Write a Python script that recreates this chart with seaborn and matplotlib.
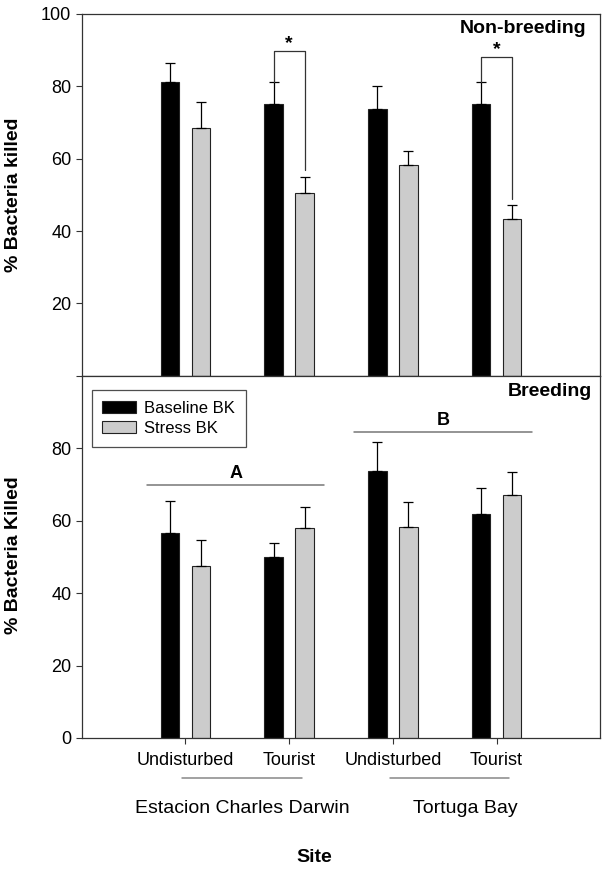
import numpy as np
import pandas as pd
import matplotlib
matplotlib.use("Agg")
import matplotlib.pyplot as plt
import seaborn as sns

# ---------------------------------------------------------------
# Data
# ---------------------------------------------------------------
groups = ["ECD-Undisturbed", "ECD-Tourist", "TB-Undisturbed", "TB-Tourist"]
habitat_labels = ["Undisturbed", "Tourist", "Undisturbed", "Tourist"]
site_names = ["Estacion Charles Darwin", "Tortuga Bay"]
treatments = ["Baseline BK", "Stress BK"]

# Non-breeding season
nb_baseline = [81.1, 75.1, 73.7, 75.1]
nb_baseline_se = [5.3, 6.0, 6.4, 6.2]
nb_stress = [68.5, 50.6, 58.3, 43.4]
nb_stress_se = [7.1, 4.4, 3.7, 3.8]

# Breeding season
br_baseline = [56.6, 50.1, 73.8, 61.9]
br_baseline_se = [8.8, 3.9, 8.0, 7.3]
br_stress = [47.6, 58.0, 58.3, 67.2]
br_stress_se = [7.2, 5.9, 6.8, 6.4]

# significance brackets (non-breeding, tourist sites): top, left end, right end
bracket_groups = [1, 3]
bracket_top = [89.8, 88.1]
bracket_left = [81.1, 81.3]
bracket_right = [57.0, 49.0]

# site letters (breeding): label, y level
letters = ["A", "B"]
letter_y = [69.8, 84.6]

colors = ["black", "#cccccc"]


def make_df(base, stress):
    return pd.DataFrame({
        "group": groups * 2,
        "treatment": [treatments[0]] * 4 + [treatments[1]] * 4,
        "value": base + stress,
    })


def draw_bars(ax, df, errs, legend):
    sns.barplot(data=df, x="group", y="value", hue="treatment",
                order=groups, hue_order=treatments, palette=colors,
                width=0.6, gap=0.4, edgecolor="#222222", linewidth=0.8,
                errorbar=None, legend=legend, ax=ax)
    # only the upper half of the error bars, as in the original
    for cont, se in zip(ax.containers, errs):
        for bar, e in zip(cont, se):
            x = bar.get_x() + bar.get_width() / 2
            ax.errorbar(x, bar.get_height(), yerr=[[0], [e]], fmt="none",
                        ecolor="black", elinewidth=0.9, capsize=3.5,
                        capthick=0.9, zorder=1)


sns.set_style("ticks")
plt.rcParams["font.family"] = ["Liberation Sans", "DejaVu Sans"]
plt.rcParams["text.color"] = "black"
plt.rcParams["axes.labelcolor"] = "black"
plt.rcParams["xtick.color"] = "black"
plt.rcParams["ytick.color"] = "black"

fig = plt.figure(figsize=(6.1, 8.72), dpi=100)
ax_top = fig.add_axes([0.134, 0.569, 0.850, 0.415])
ax_bot = fig.add_axes([0.134, 0.1537, 0.850, 0.415])

# ---- top panel: non-breeding ----
draw_bars(ax_top, make_df(nb_baseline, nb_stress),
          [nb_baseline_se, nb_stress_se], legend=False)

cont_b, cont_s = ax_top.containers[0], ax_top.containers[1]
for g, top, yl, yr in zip(bracket_groups, bracket_top, bracket_left, bracket_right):
    xl = cont_b[g].get_x() + cont_b[g].get_width() / 2
    xr = cont_s[g].get_x() + cont_s[g].get_width() / 2
    ax_top.plot([xl, xl, xr, xr], [yl, top, top, yr], color="#333333", lw=0.9)
    ax_top.text((xl + xr) / 2, top - 0.3, "*", ha="center", va="bottom",
                fontsize=14, fontweight="bold")

ax_top.text(0.973, 0.983, "Non-breeding", transform=ax_top.transAxes,
            ha="right", va="top", fontsize=14, fontweight="bold")
ax_top.set_yticks([0, 20, 40, 60, 80, 100])
ax_top.set_yticklabels(["", "20", "40", "60", "80", "100"])
ax_top.set_xticks([])

# ---- bottom panel: breeding ----
draw_bars(ax_bot, make_df(br_baseline, br_stress),
          [br_baseline_se, br_stress_se], legend=True)

# letters over site groups
for i, (lab, yv) in enumerate(zip(letters, letter_y)):
    g0, g1 = 2 * i, 2 * i + 1
    x0 = ax_bot.containers[0][g0].get_x() - 0.13
    x1 = ax_bot.containers[1][g1].get_x() + ax_bot.containers[1][g1].get_width() + 0.1
    ax_bot.plot([x0, x1], [yv, yv], color="#777777", lw=1.1)
    ax_bot.text((x0 + x1) / 2, yv + 0.8, lab, ha="center", va="bottom",
                fontsize=13, fontweight="bold")

ax_bot.text(0.985, 0.98, "Breeding", transform=ax_bot.transAxes,
            ha="right", va="top", fontsize=14, fontweight="bold")
ax_bot.set_yticks([0, 20, 40, 60, 80])
ax_bot.set_xticks(range(len(groups)))
ax_bot.set_xticklabels(habitat_labels, fontsize=13)
ax_bot.tick_params(axis="x", pad=6)

leg = ax_bot.legend(loc="upper left", bbox_to_anchor=(0.019, 0.962),
                    borderaxespad=0, frameon=True, fancybox=False,
                    edgecolor="#222222", fontsize=12, handlelength=2.0,
                    handleheight=0.75, labelspacing=0.3, borderpad=0.65,
                    handletextpad=0.5)
leg.get_frame().set_linewidth(0.9)

for ax in (ax_top, ax_bot):
    ax.set_xlim(-1, 4)
    ax.set_ylim(0, 100)
    ax.set_xlabel("")
    ax.set_ylabel("")
    for sp in ax.spines.values():
        sp.set_visible(True)
        sp.set_color("#333333")
        sp.set_linewidth(0.9)
    ax.tick_params(axis="y", labelsize=13, direction="out", length=4,
                   color="#333333")
    ax.tick_params(axis="x", direction="out", length=4, color="#333333")

# site group underlines and names below the axis
trans = matplotlib.transforms.blended_transform_factory(ax_bot.transData,
                                                        ax_bot.transAxes)
for i, name in enumerate(site_names):
    x0, x1 = 2 * i - 0.03, 2 * i + 1.12
    ax_bot.plot([x0, x1], [-0.11, -0.11], color="#888888", lw=1.1,
                transform=trans, clip_on=False)
    ax_bot.text((x0 + x1) / 2 + (0 if i == 0 else 0.15), -0.196, name,
                transform=trans, ha="center", va="center", fontsize=14)

fig.text(0.515, 1 - 857 / 872, "Site", ha="center", va="center",
         fontsize=14, fontweight="bold")
fig.text(14 / 610, 1 - 195 / 872, "% Bacteria killed", rotation=90,
         ha="center", va="center", fontsize=14, fontweight="bold")
fig.text(14 / 610, 1 - 555 / 872, "% Bacteria Killed", rotation=90,
         ha="center", va="center", fontsize=14, fontweight="bold")

fig.savefig("out.png", dpi=100)
